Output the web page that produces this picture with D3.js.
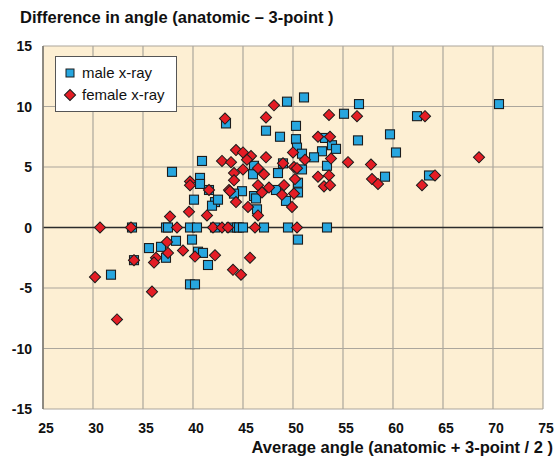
<!DOCTYPE html>
<html>
<head>
  <meta charset="utf-8">
  <script src="https://d3js.org/d3.v7.min.js"></script>
  <style>
    body { margin: 0; background: #fff; }
    svg { display: block; font-family: 'Liberation Sans', Arial, Helvetica, sans-serif; }
  </style>
</head>
<body>
<script>
  // male x-ray (squares)
  var maleX = [37.9, 40.9, 40.7, 40.7, 41.6, 40.1, 42.2, 41.9, 33.9, 37.3,
               37.5, 39.7, 40.4, 42.2, 38.3, 39.9, 35.6, 36.8, 40.5, 41.0,
               37.3, 34.1, 41.5, 31.8, 39.7, 40.2, 49.4, 43.3, 47.3, 48.7,
               50.3, 50.3, 50.4, 49.0, 46.1, 46.0, 48.5, 44.9, 44.1, 48.3,
               46.1, 42.5, 46.3, 46.4, 49.3, 43.8, 44.4, 44.6, 45.0, 47.1,
               49.5, 50.5, 51.1, 56.6, 55.1, 56.5, 53.2, 53.9, 54.3, 52.9,
               52.1, 50.9, 53.4, 50.9, 50.5, 50.5, 53.4, 70.6, 62.4, 59.7,
               60.3, 59.2, 63.6];
  var maleY = [4.6, 5.5, 4.1, 3.6, 3.1, 2.3, 2.1, 1.8, 0, 0,
               0, 0, 0, 0, -1.1, -1.0, -1.7, -1.6, -2.0, -2.1,
               -2.5, -2.7, -3.1, -3.9, -4.7, -4.7, 10.4, 8.6, 8.0, 7.5,
               8.4, 7.3, 6.6, 5.3, 5.1, 4.4, 4.5, 3.0, 2.8, 3.1,
               2.6, 2.3, 2.4, 1.5, 2.2, 0, 0, 0, 0, 0,
               0, -1.0, 10.75, 10.2, 9.4, 7.2, 7.4, 6.8, 6.5, 6.3,
               5.8, 6.1, 5.1, 4.8, 3.7, 2.9, 0, 10.2, 9.2, 7.7,
               6.2, 4.2, 4.3];

  // female x-ray (diamonds)
  var femaleX = [42.9, 39.7, 39.7, 41.6, 43.6, 39.6, 37.7, 41.4, 30.7, 33.8,
                 38.4, 42.0, 42.9, 43.5, 37.4, 39.0, 37.5, 40.2, 42.2, 36.3,
                 36.1, 34.1, 30.2, 35.9, 32.4, 48.1, 43.2, 47.3, 44.3, 45.0,
                 45.8, 45.4, 43.8, 47.3, 50.0, 49.0, 46.5, 44.1, 45.0, 47.1,
                 50.1, 50.2, 44.1, 43.7, 46.5, 46.9, 47.6, 49.1, 48.9, 50.1,
                 44.3, 45.5, 46.5, 49.9, 46.2, 50.4, 45.7, 44.0, 44.8, 53.6,
                 56.4, 52.5, 53.7, 51.2, 53.8, 55.5, 57.8, 52.5, 53.6, 53.1,
                 53.7, 57.9, 58.5, 63.2, 68.6, 64.2, 62.9, 50.4];
  var femaleY = [5.5, 3.8, 3.5, 3.1, 3.1, 1.3, 0.9, 1.0, 0, 0,
                 0, 0, 0, 0, -1.2, -1.9, -2.1, -2.4, -2.3, -2.5,
                 -2.9, -2.7, -4.1, -5.3, -7.6, 10.1, 9.0, 9.1, 6.4, 6.2,
                 5.9, 5.6, 5.4, 5.8, 6.2, 5.3, 4.9, 4.5, 4.8, 4.4,
                 5.0, 4.0, 3.9, 3.0, 3.5, 2.9, 3.3, 3.5, 2.7, 2.8,
                 2.1, 1.7, 1.0, 1.7, 0, 0, -2.5, -3.5, -3.9, 9.3,
                 9.2, 7.5, 7.5, 5.6, 5.7, 5.4, 5.2, 4.2, 4.3, 3.4,
                 3.5, 4.0, 3.6, 9.2, 5.8, 4.3, 3.5, 4.9];

  var xTicks = [25, 30, 35, 40, 45, 50, 55, 60, 65, 70, 75];
  var yTicks = [-15, -10, -5, 0, 5, 10, 15];

  var W = 556, H = 457;
  var plotL = 43, plotR = 543, plotT = 46, plotB = 409;

  var svg = d3.select("body").append("svg")
      .attr("width", W)
      .attr("height", H);

  var x = d3.scaleLinear().domain([25, 75]).range([plotL, plotR]);
  var y = d3.scaleLinear().domain([-15, 15]).range([plotB, plotT]);

  // plot background
  svg.append("rect")
      .attr("x", plotL).attr("y", plotT)
      .attr("width", plotR - plotL).attr("height", plotB - plotT)
      .attr("fill", "#fdefd3");

  // grid
  svg.append("g").selectAll("line").data(xTicks).enter().append("line")
      .attr("x1", function (d) { return x(d); })
      .attr("x2", function (d) { return x(d); })
      .attr("y1", plotT).attr("y2", plotB)
      .attr("stroke", "#aba69c").attr("stroke-width", 1.2);
  svg.append("g").selectAll("line").data(yTicks).enter().append("line")
      .attr("x1", plotL).attr("x2", plotR)
      .attr("y1", function (d) { return y(d); })
      .attr("y2", function (d) { return y(d); })
      .attr("stroke", "#aba69c").attr("stroke-width", 1.2);

  // zero line + left axis
  svg.append("line")
      .attr("x1", plotL).attr("x2", plotR)
      .attr("y1", y(0)).attr("y2", y(0))
      .attr("stroke", "#2b2b2b").attr("stroke-width", 1.3);
  svg.append("line")
      .attr("x1", plotL).attr("x2", plotL)
      .attr("y1", plotT).attr("y2", plotB)
      .attr("stroke", "#7a766e").attr("stroke-width", 1.5);

  // tick labels
  svg.append("g").selectAll("text").data(yTicks).enter().append("text")
      .attr("x", 32)
      .attr("y", function (d) { return y(d) + 5; })
      .attr("text-anchor", "end")
      .attr("font-size", "14px").attr("font-weight", "bold")
      .attr("fill", "#111")
      .text(function (d) { return d; });
  svg.append("g").selectAll("text").data(xTicks).enter().append("text")
      .attr("x", function (d) { return x(d) + 3; })
      .attr("y", 433)
      .attr("text-anchor", "middle")
      .attr("font-size", "14px").attr("font-weight", "bold")
      .attr("fill", "#111")
      .text(function (d) { return d; });

  // titles
  svg.append("text")
      .attr("x", 20).attr("y", 23)
      .attr("font-size", "16.5px").attr("font-weight", "bold")
      .attr("fill", "#111")
      .text("Difference in angle (anatomic \u2013 3-point )");
  svg.append("text")
      .attr("x", 553).attr("y", 453)
      .attr("text-anchor", "end")
      .attr("font-size", "16.5px").attr("font-weight", "bold")
      .attr("fill", "#111")
      .text("Average angle (anatomic + 3-point / 2 )");

  var diamond = d3.symbol().type(d3.symbolSquare).size(62);

  // male squares
  svg.append("g").selectAll("rect").data(d3.range(maleX.length)).enter().append("rect")
      .attr("x", function (i) { return x(maleX[i]) - 4.5; })
      .attr("y", function (i) { return y(maleY[i]) - 4.5; })
      .attr("width", 9).attr("height", 9)
      .attr("fill", "#27a6df")
      .attr("stroke", "#1c1c1c").attr("stroke-width", 1.1);

  // female diamonds
  svg.append("g").selectAll("path").data(d3.range(femaleX.length)).enter().append("path")
      .attr("d", diamond)
      .attr("transform", function (i) {
        return "translate(" + x(femaleX[i]) + "," + y(femaleY[i]) + ") rotate(45)";
      })
      .attr("fill", "#e41d25")
      .attr("stroke", "#1c1c1c").attr("stroke-width", 1);

  // legend
  var lg = svg.append("g");
  lg.append("rect")
      .attr("x", 55.5).attr("y", 56.5).attr("width", 121).attr("height", 55)
      .attr("fill", "#fff").attr("stroke", "#555").attr("stroke-width", 1);
  lg.append("rect")
      .attr("x", 66).attr("y", 69).attr("width", 8).attr("height", 8)
      .attr("fill", "#27a6df").attr("stroke", "#1c1c1c");
  lg.append("path")
      .attr("d", diamond)
      .attr("transform", "translate(70,95) rotate(45)")
      .attr("fill", "#e41d25").attr("stroke", "#1c1c1c");
  lg.append("text").attr("x", 82).attr("y", 78)
      .attr("font-size", "15px").attr("fill", "#111").text("male x-ray");
  lg.append("text").attr("x", 82).attr("y", 100)
      .attr("font-size", "15px").attr("fill", "#111").text("female x-ray");
</script>
</body>
</html>
